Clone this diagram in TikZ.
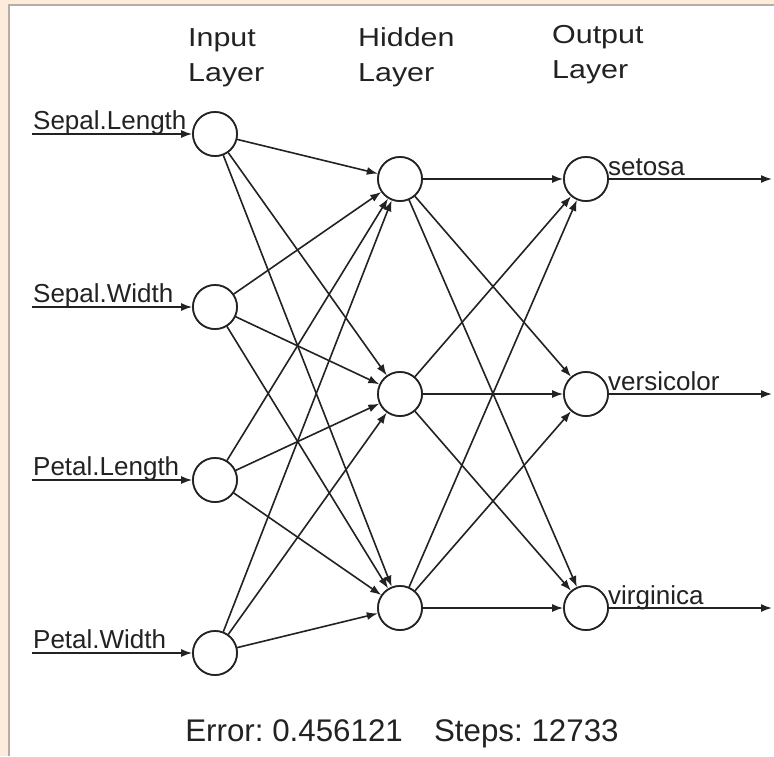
\documentclass[tikz,border=0pt]{standalone}
\usepackage{fontspec}
\setmainfont{Liberation Sans}
\usetikzlibrary{arrows.meta}
\definecolor{peach}{HTML}{FDEBDC}
\definecolor{frameline}{HTML}{B8ADA4}
\definecolor{ink}{HTML}{222222}
\tikzset{
  neuron/.style={circle, draw=ink, line width=1.7pt, minimum size=44pt, inner sep=0pt, fill=white},
  link/.style={draw=ink, line width=1.6pt, -{Latex[length=11pt,width=8pt]}},
  varlabel/.style={anchor=base west, inner sep=0pt, font=\fontsize{26}{26}\selectfont, text=ink},
  layerlabel/.style={anchor=base west, inner sep=0pt, font=\fontsize{26}{26}\selectfont, text=ink},
}
% headings are set slightly wide
\newcommand{\widetext}[1]{\scalebox{1.17}[1]{#1}}
\begin{document}
\begin{tikzpicture}[x=1pt,y=-1pt]
  % page, with the light frame on the top and left edges
  \useasboundingbox (0,0) rectangle (774,756);
  \fill[peach] (0,0) rectangle (774,756);
  \fill[white] (9,5) rectangle (774,756);
  \draw[frameline, line width=1.2pt] (9,756) -- (9,5) -- (774,5);

  % layer headings
  \node[layerlabel] (hin1) at (188,46) {\widetext{Input}};
  \node[layerlabel] (hin2) at (188,81) {\widetext{Layer}};
  \node[layerlabel] (hhid1) at (358,46) {\widetext{Hidden}};
  \node[layerlabel] (hhid2) at (358,81) {\widetext{Layer}};
  \node[layerlabel] (hout1) at (552,43) {\widetext{Output}};
  \node[layerlabel] (hout2) at (552,78) {\widetext{Layer}};

  % neurons
  \node[neuron] (i1) at (215,134) {};
  \node[neuron] (i2) at (215,307) {};
  \node[neuron] (i3) at (215,480) {};
  \node[neuron] (i4) at (215,653) {};
  \node[neuron] (h1) at (400,179) {};
  \node[neuron] (h2) at (400,394) {};
  \node[neuron] (h3) at (400,608) {};
  \node[neuron] (o1) at (586,179) {};
  \node[neuron] (o2) at (586,394) {};
  \node[neuron] (o3) at (586,608) {};

  % input arrows and variable names
  \coordinate (s1) at (32,134);
  \coordinate (s2) at (32,307);
  \coordinate (s3) at (32,480);
  \coordinate (s4) at (32,653);
  \foreach \k in {1,...,4} \draw[link] (s\k) -- (i\k.west);
  \node[varlabel] (v1) at (33,129) {Sepal.Length};
  \node[varlabel] (v2) at (33,302) {Sepal.Width};
  \node[varlabel] (v3) at (33,475) {Petal.Length};
  \node[varlabel] (v4) at (33,648) {Petal.Width};

  % weights: input to hidden, hidden to output
  \foreach \a in {1,...,4}
    \foreach \b in {1,2,3}
      \draw[link] (i\a) -- (h\b);
  \foreach \a in {1,2,3}
    \foreach \b in {1,2,3}
      \draw[link] (h\a) -- (o\b);
  % redraw the circles so their rims sit over the line ends
  \foreach \k in {1,...,4} \node[neuron] at (i\k) {};
  \foreach \k in {1,2,3} {\node[neuron] at (h\k) {}; \node[neuron] at (o\k) {};}

  % output arrows and class names
  \coordinate (e1) at (772,179);
  \coordinate (e2) at (772,394);
  \coordinate (e3) at (772,608);
  \foreach \k in {1,2,3} \draw[link] (o\k.east) -- (e\k);
  \node[varlabel] (c1) at (608,175) {setosa};
  \node[varlabel] (c2) at (608,390) {versicolor};
  \node[varlabel] (c3) at (608,604) {virginica};

  % training summary
  \node[anchor=base, inner sep=0pt, font=\fontsize{31.3}{31.3}\selectfont, text=ink] (summary) at (402,741)
    {\frenchspacing Error: 0.456121\hspace{1em}Steps: 12733};
\end{tikzpicture}
\end{document}
